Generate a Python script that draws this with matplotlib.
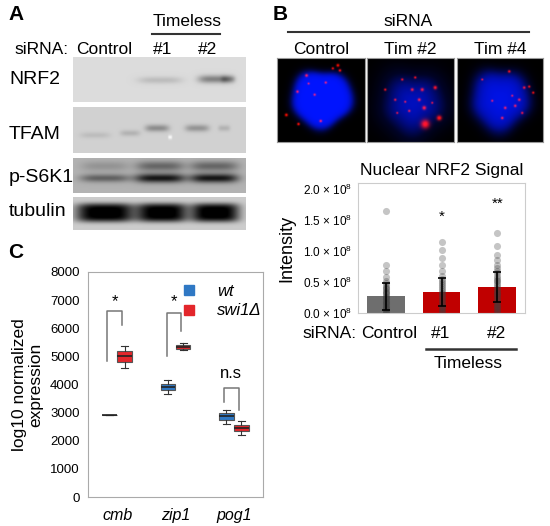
import numpy as np
import matplotlib
matplotlib.use("Agg")
import matplotlib.pyplot as plt
from matplotlib.lines import Line2D

plt.rcParams["font.family"] = ["Liberation Sans", "DejaVu Sans"]
plt.rcParams["mathtext.fontset"] = "custom"
plt.rcParams["mathtext.rm"] = "Liberation Sans"
plt.rcParams["mathtext.it"] = "Liberation Sans:italic"

W, H = 550, 526

# ---- panel B bar chart data (intensity, x 1e8) ----
b_cats = ["Control", "#1", "#2"]
b_means = [0.27, 0.34, 0.42]
b_sds = [0.22, 0.22, 0.24]
b_colors = ["#6e6e6e", "#c00000", "#c00000"]
b_points = [
    [0.00, 0.02, 0.04, 0.06, 0.08, 0.10, 0.12, 0.14, 0.16, 0.18, 0.20, 0.22,
     0.24, 0.26, 0.28, 0.30, 0.32, 0.34, 0.36, 0.38, 0.40, 0.42, 0.45, 0.48,
     0.52, 0.58, 0.68, 0.78, 1.65],
    [0.00, 0.03, 0.06, 0.09, 0.12, 0.15, 0.18, 0.21, 0.24, 0.27, 0.30, 0.33,
     0.36, 0.39, 0.42, 0.45, 0.48, 0.51, 0.55, 0.60, 0.68, 0.78, 0.89, 1.02,
     1.15],
    [0.00, 0.03, 0.06, 0.09, 0.12, 0.15, 0.18, 0.21, 0.24, 0.27, 0.30, 0.33,
     0.36, 0.39, 0.42, 0.45, 0.48, 0.51, 0.54, 0.57, 0.60, 0.64, 0.68, 0.72,
     0.78, 0.86, 0.94, 1.09, 1.29],
]
b_stars = ["", "*", "**"]
b_star_y = [0, 1.55, 1.76]

# ---- panel C box plot data ----
c_genes = ["cmb", "zip1", "pog1"]
# (whislo, q1, med, q3, whishi)
c_wt = [(2900, 2900, 2900, 2900, 2900),
        (3680, 3820, 3915, 4030, 4150),
        (2610, 2750, 2880, 2990, 3110)]
c_swi = [(4600, 4800, 5000, 5180, 5360),
         (5240, 5280, 5340, 5400, 5460),
         (2220, 2340, 2460, 2570, 2700)]
c_sig = ["*", "*", "n.s"]
# bracket: left x, left bottom, top, right x, right bottom
c_brackets = [(0.83, 4840, 6620, 1.09, 6110),
              (1.85, 5000, 6550, 2.10, 5900),
              (2.83, 3380, 3890, 3.09, 3080)]
c_sig_xy = [(0.97, 6950), (1.98, 6950), (2.95, 4390)]

fig = plt.figure(figsize=(W / 100, H / 100), dpi=100)


def add_ax(x0, y0, x1, y1):
    return fig.add_axes([x0 / W, 1 - y1 / H, (x1 - x0) / W, (y1 - y0) / H])


def ftext(x, y, s, **kw):
    kw.setdefault("va", "center")
    return fig.text(x / W, 1 - y / H, s, **kw)


def fline(x0, x1, y, color="#333333", lw=1.5):
    fig.add_artist(Line2D([x0 / W, x1 / W], [1 - y / H, 1 - y / H],
                          color=color, lw=lw))


# ================= Panel A: western blots =================
ftext(8, 14, "A", fontsize=15, fontweight="bold")
ftext(187, 21, "Timeless", fontsize=12.5, ha="center")
fline(152, 220, 34)
ftext(14, 50, "siRNA:", fontsize=12.5)
ftext(104, 50, "Control", fontsize=12.5, ha="center")
ftext(163, 50, "#1", fontsize=12.5, ha="center")
ftext(208, 50, "#2", fontsize=12.5, ha="center")


def blot(box, bg, bands, ypow=2):
    x0, y0, x1, y1 = box
    w, h = x1 - x0, y1 - y0
    ax = add_ax(*box)
    X, Y = np.meshgrid(np.arange(w * 3) / 3 + x0, np.arange(h * 3) / 3 + y0)
    img = np.full(X.shape, bg)
    for cx, cy, hw, hh, d in bands:
        img -= d * np.exp(-np.abs((X - cx) / hw) ** 4 - np.abs((Y - cy) / hh) ** ypow)
    ax.imshow(np.clip(img, 0, 1), cmap="gray", vmin=0, vmax=1,
              extent=(x0, x1, y1, y0), aspect="auto", interpolation="bilinear")
    ax.set_axis_off()
    return ax


blot((73, 57, 246, 102), 0.86,
     [(160, 80, 22, 3.5, 0.12), (215, 79, 17, 4, 0.35), (228, 79, 7, 3.5, 0.2)])
blot((73, 107, 246, 153), 0.82,
     [(95, 135, 15, 3, 0.08), (130, 133, 10, 3, 0.12), (157, 128, 12, 3.5, 0.27),
      (197, 128, 12, 3.5, 0.24), (224, 128, 6, 3, 0.12), (170, 137, 2, 2, -0.15)])
blot((73, 158, 246, 193), 0.70,
     [(105, 178, 25, 4, 0.32), (160, 178, 25, 4.5, 0.62), (214, 178, 24, 4.5, 0.62),
      (105, 166, 24, 5, 0.12), (160, 166, 24, 5, 0.3), (214, 166, 24, 5, 0.3)])
blot((73, 197, 246, 230), 0.80,
     [(105, 213, 29, 9, 0.85), (162, 213, 25, 9, 0.85), (215, 213, 24, 9, 0.85)],
     ypow=4)
for lab, y in zip(["NRF2", "TFAM", "p-S6K1", "tubulin"], [80, 134, 178, 212]):
    ftext(9, y, lab, fontsize=14)

# ================= Panel B: images =================
ftext(273, 14, "B", fontsize=15, fontweight="bold")
ftext(408, 21, "siRNA", fontsize=12.5, ha="center")
fline(288, 529, 32)
img_titles = ["Control", "Tim #2", "Tim #4"]
img_boxes = [(277, 58, 365, 142), (367, 58, 454, 142), (457, 58, 543, 142)]
# cx, cy, rx, ry, brightness, edge sharpness, centre falloff
nuclei = [(44, 41, 30, 28, 1.0, 14, 0.0),
          (46, 46, 33, 32, 0.75, 5, 0.6),
          (43, 42, 29, 30, 0.9, 9, 0.25)]
spots = [
    [(60, 8, 1.0), (55, 11, 0.8), (62, 13, 0.9), (29, 18, 1.0), (9, 57, 1.0),
     (21, 66, 0.9), (43, 63, 0.9), (37, 37, 0.8), (48, 25, 0.8), (20, 34, 0.9),
     (31, 26, 0.7)],
    [(58, 66, 3.0), (72, 60, 1.7), (68, 30, 1.2), (55, 32, 1.1), (45, 32, 1.0),
     (35, 22, 0.8), (57, 50, 1.3), (42, 53, 0.8), (52, 42, 1.0), (18, 32, 0.8),
     (28, 42, 0.8), (48, 20, 0.8), (38, 44, 0.7), (65, 45, 0.7), (30, 55, 0.7)],
    [(52, 14, 0.9), (67, 30, 0.9), (72, 29, 0.8), (48, 50, 0.9), (62, 42, 0.9),
     (45, 60, 0.9), (65, 55, 0.8), (35, 43, 0.7), (58, 48, 0.9), (25, 22, 0.7),
     (55, 38, 0.7), (76, 35, 0.8)],
]
for t, box, nuc, sp in zip(img_titles, img_boxes, nuclei, spots):
    x0, y0, x1, y1 = box
    w, h = x1 - x0, y1 - y0
    ax = add_ax(*box)
    X, Y = np.meshgrid(np.arange(w * 2) / 2, np.arange(h * 2) / 2)
    cx, cy, rx, ry, amp, soft, fall = nuc
    ang = np.arctan2(Y - cy, X - cx)
    rr = np.sqrt(((X - cx) / rx) ** 2 + ((Y - cy) / ry) ** 2)
    rr = rr / (1 + 0.05 * np.cos(3 * ang + 1) + 0.04 * np.sin(5 * ang))
    blue = amp * (1 - fall * np.clip(rr, 0, 1) ** 2) / (1 + np.exp((rr - 1) * soft))
    red = np.zeros_like(X)
    for sx, sy, sr in sp:
        red += np.exp(-((X - sx) ** 2 + (Y - sy) ** 2) / (2 * sr ** 2))
    red = np.clip(red * 1.1, 0, 1)
    rgb = np.dstack([red, 0.08 * blue + 0.05 * red,
                     np.clip(blue * (1 - 0.5 * red), 0, 1)])
    ax.imshow(rgb, extent=(0, w, h, 0), aspect="auto", interpolation="bilinear")
    ax.set_xticks([])
    ax.set_yticks([])
    for sp_ in ax.spines.values():
        sp_.set_color("#999999")
    ftext((x0 + x1) / 2, 50, t, fontsize=12.5, ha="center")

# ================= Panel B: bar chart =================
ax = add_ax(358, 183, 525, 313)
xb = np.arange(len(b_cats))
ax.bar(xb, b_means, width=0.68, color=b_colors, zorder=1)
for i, pts in enumerate(b_points):
    ax.scatter(np.full(len(pts), xb[i]), pts, s=26, color="#404040",
               alpha=0.3, linewidths=0, zorder=2)
ax.errorbar(xb, b_means, yerr=b_sds, fmt="none", ecolor="black",
            elinewidth=1.2, capsize=3, capthick=1.2, zorder=3)
for i, s in enumerate(b_stars):
    if s:
        ax.text(xb[i], b_star_y[i], s, ha="center", va="center", fontsize=11)
ax.set_xlim(-0.5, 2.5)
ax.set_ylim(0, 2.1)
yt = [0.0, 0.5, 1.0, 1.5, 2.0]
ax.set_yticks(yt)
ax.set_yticklabels([f"{v:.1f} \u00d7 10$^8$" for v in yt], fontsize=8.5)
ax.set_xticks([])
ax.tick_params(axis="y", length=0, pad=4)
for sp_ in ax.spines.values():
    sp_.set_color("#cccccc")
ax.set_title("Nuclear NRF2 Signal", fontsize=12.5, pad=6)
ftext(287, 248, "Intensity", fontsize=13, rotation=90, ha="center")
ftext(357, 333, "siRNA:", fontsize=12.5, ha="right")
ftext(389, 333, "Control", fontsize=12.5, ha="center")
ftext(441, 333, "#1", fontsize=12.5, ha="center")
ftext(497, 333, "#2", fontsize=12.5, ha="center")
fline(426, 516, 349, lw=1.8)
ftext(468, 364, "Timeless", fontsize=12.5, ha="center")

# ================= Panel C: box plot =================
ftext(8, 253, "C", fontsize=15, fontweight="bold")
ax = add_ax(88, 272, 263, 497)
xc = np.arange(1, len(c_genes) + 1)


def to_stats(rows):
    return [dict(whislo=a, q1=b, med=c, q3=d, whishi=e) for a, b, c, d, e in rows]


for rows, off, col in [(c_wt, -0.13, "#2f78c4"), (c_swi, 0.13, "#e3262b")]:
    ax.bxp(to_stats(rows), positions=xc + off, widths=0.25, patch_artist=True,
           showfliers=False, capwidths=0.12,
           boxprops=dict(facecolor=col, edgecolor="#555555", lw=0.8),
           medianprops=dict(color="#222222", lw=1.2),
           whiskerprops=dict(color="#333333", lw=0.8),
           capprops=dict(color="#333333", lw=0.8))
for (lx, lb, top, rx, rb), s, (sx, sy) in zip(c_brackets, c_sig, c_sig_xy):
    ax.plot([lx, lx, rx, rx], [lb, top, top, rb], color="#777777", lw=1.1)
    ax.text(sx, sy, s, ha="center", va="center", fontsize=12)
ax.set_xlim(0.5, 3.5)
ax.set_ylim(0, 8000)
ax.set_yticks(np.arange(0, 8001, 1000))
ax.set_xticks(xc)
ax.set_xticklabels(c_genes, fontsize=11.5, style="italic")
ax.tick_params(axis="y", length=0, labelsize=9.5, pad=6)
ax.tick_params(axis="x", length=0, pad=8)
for sp_ in ax.spines.values():
    sp_.set_color("#aaaaaa")
handles = [Line2D([], [], marker="s", ls="none", color="#2f78c4", markersize=7),
           Line2D([], [], marker="s", ls="none", color="#e3262b", markersize=7)]
ax.legend(handles, ["wt", "swi1\u0394"], loc="upper right", frameon=False,
          prop=dict(style="italic", size=12), handletextpad=0.7,
          labelspacing=0.25, borderaxespad=0.2, bbox_to_anchor=(1.05, 0.99))
ftext(28, 385, "log10 normalized\nexpression", fontsize=12.5, rotation=90,
      ha="center", linespacing=1.1)

fig.savefig("out.png", dpi=100)
